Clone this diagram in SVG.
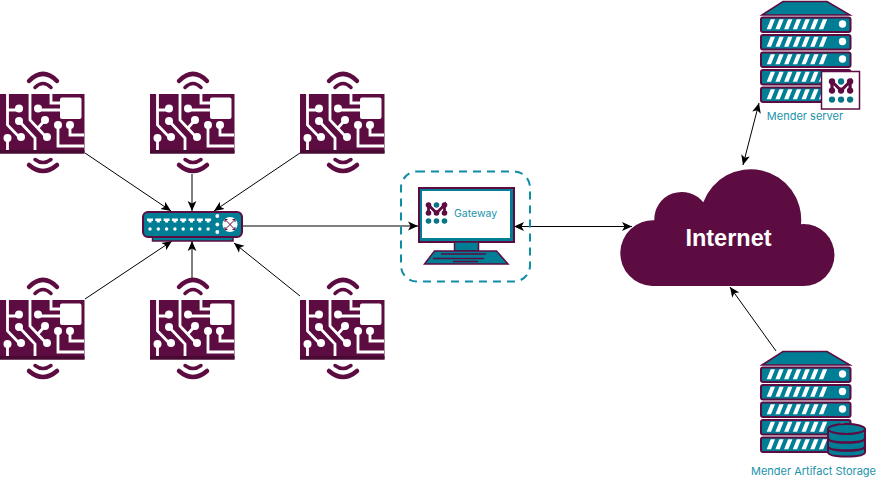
<svg xmlns="http://www.w3.org/2000/svg" width="878" height="478" viewBox="0 0 878 478">
<style>
.p{fill:#5d0c41}.w{fill:#fff}.t{fill:#007e96}
.tr{fill:none;stroke:#fff;stroke-width:2.800}
.wv{fill:none;stroke:#5d0c41;stroke-linecap:round}
.ln{stroke:#000;stroke-width:1;fill:none;marker-end:url(#a)}
.dbl{marker-start:url(#a)}
.lb{font-family:"Inter","Open Sans","Liberation Sans",sans-serif;fill:#1a93ab}
</style>
<defs>
<marker id="a" markerUnits="userSpaceOnUse" markerWidth="12" markerHeight="10" refX="10" refY="5" orient="auto-start-reverse"><path d="M0 0.6L10 5L0 9.400L2.500 5Z" fill="#000"/></marker>
<g id="dev">
<path class="wv" stroke-width="4.500" d="M29-13Q43-27 57-13"/>
<path class="wv" stroke-width="3.500" d="M35-6.500Q43-14.500 51-6.500"/>
<rect class="p" x="0" y="0" width="84.500" height="59.500"/>
<rect x="0" y="56" width="84.500" height="3.500" fill="#470a32"/>
<path class="wv" stroke-width="3.500" d="M35 65.500Q43 71.500 51 65.500"/>
<path class="wv" stroke-width="4.500" d="M29 71Q43 83 57 71"/>
<rect class="w" x="60" y="3.500" width="21.500" height="21.500" rx="2"/>
<path class="tr" d="M7.500 0V31L21 45M7.500 16H19M7.500 45V56M19 27L35 44V56M30 0V26L47 44M45 26L37 35M38 16H60M51 0V9H60M58 31V52H84M70 31V41H84"/>
<g class="w"><circle cx="19" cy="14.500" r="4"/><circle cx="21" cy="43" r="4"/><circle cx="7.500" cy="44" r="4"/><circle cx="19" cy="27" r="4"/><circle cx="47" cy="43" r="4"/><circle cx="45" cy="26" r="4"/><circle cx="38" cy="14.500" r="4"/><circle cx="58" cy="31" r="4"/><circle cx="70" cy="31" r="4"/></g>
</g>
<g id="unit">
<rect class="t" x="761" y="17.500" width="89.500" height="14.500" rx="2" stroke="#5d0c41" stroke-width="2"/>
<path class="w" d="M766.700 29.300L770.700 19.300H775L771 29.300ZM775.400 29.300L779.400 19.300H783.700L779.700 29.300ZM784.100 29.300L788.100 19.300H792.400L788.400 29.300ZM792.800 29.300L796.800 19.300H801.100L797.100 29.300ZM801.500 29.300L805.500 19.300H809.800L805.800 29.300ZM810.200 29.300L814.200 19.300H818.500L814.500 29.300ZM818.900 29.300L822.900 19.300H827.200L823.200 29.300Z"/>
<circle class="w" cx="842.500" cy="24" r="3.700"/>
</g>
<g id="srv">
<path class="t" d="M762 15L783 1.500H827L850 15Z" stroke="#5d0c41" stroke-width="1.500"/>
<use href="#unit"/><use href="#unit" y="17.500"/><use href="#unit" y="35"/><use href="#unit" y="52.500"/><use href="#unit" y="70"/>
</g>
<g id="logo">
<path d="M0 0V8M0 0L8 8L16 0V8" fill="none" stroke="#5d0c41" stroke-width="2.800"/>
<g class="p"><circle cx="0" cy="0" r="2.800"/><circle cx="16" cy="0" r="2.800"/><circle cx="0" cy="8" r="2.800"/><circle cx="8" cy="8" r="2.800"/><circle cx="16" cy="8" r="2.800"/></g>
<g fill="#0a7487"><circle cx="8" cy="0" r="2.800"/><circle cx="0" cy="16" r="2.800"/><circle cx="8" cy="16" r="2.800"/><circle cx="16" cy="16" r="2.800"/></g>
</g>
</defs>
<g id="connectors">
<path class="ln" d="M85 153L171 211"/>
<path class="ln" d="M192 174V211"/>
<path class="ln" d="M300 153L214 211"/>
<path class="ln" d="M85 299L172 241"/>
<path class="ln" d="M192 278V241"/>
<path class="ln" d="M300 296L234 243"/>
<path class="ln" d="M243 226H418"/>
<path class="ln dbl" d="M514 226.500H632"/>
<path class="ln dbl" d="M743 165L759 103"/>
<path class="ln" d="M776 351L730 287"/>
</g>
<g id="device1"><use href="#dev" x="0" y="94"/></g>
<g id="device2"><use href="#dev" x="150" y="94"/></g>
<g id="device3"><use href="#dev" x="300" y="94"/></g>
<g id="device4"><use href="#dev" x="0" y="300"/></g>
<g id="device5"><use href="#dev" x="150" y="300"/></g>
<g id="device6"><use href="#dev" x="300" y="300"/></g>
<g id="switch">
<rect class="t" x="152.500" y="236" width="80.500" height="5" stroke="#5d0c41" stroke-width="1.500"/>
<rect class="t" x="143" y="212" width="99" height="25" rx="5" stroke="#5d0c41" stroke-width="2"/>
<g class="w">
<path d="M147 218.500h6v2.500h-1.500v1.500h-3V221H147ZM155.300 218.500h6v2.500h-1.500v1.500h-3V221h-1.500ZM163.600 218.500h6v2.500h-1.500v1.500h-3V221h-1.500ZM171.900 218.500h6v2.500h-1.500v1.500h-3V221h-1.500ZM180.200 218.500h6v2.500h-1.500v1.500h-3V221h-1.500ZM188.500 218.500h6v2.500h-1.500v1.500h-3V221h-1.500ZM196.800 218.500h6v2.500h-1.500v1.500h-3V221h-1.500ZM205.100 218.500h6v2.500h-1.500v1.500h-3V221h-1.500Z"/>
<circle cx="150" cy="229" r="1.700"/><circle cx="158.300" cy="229" r="1.700"/><circle cx="166.600" cy="229" r="1.700"/><circle cx="174.900" cy="229" r="1.700"/><circle cx="183.200" cy="229" r="1.700"/><circle cx="191.500" cy="229" r="1.700"/><circle cx="199.800" cy="229" r="1.700"/><circle cx="208.100" cy="229" r="1.700"/>
<circle cx="217.300" cy="216" r="1.900"/><circle cx="217.300" cy="224.500" r="1.900"/><circle cx="217.300" cy="232" r="1.900"/>
<circle cx="230" cy="224.500" r="7.500"/>
</g>
<path d="M225 219.500L235 229.500M235 219.500L225 229.500M225 219.500h2.500M225 219.500v2.500M235 219.500h-2.500M235 219.500v2.500M225 229.500h2.500M225 229.500v-2.500M235 229.500h-2.500M235 229.500v-2.500" fill="none" stroke="#5d0c41" stroke-width="1"/>
</g>
<g id="gateway">
<rect x="401" y="171.500" width="129" height="110" rx="16" fill="none" stroke="#0e8da5" stroke-width="2" stroke-dasharray="8 6"/>
<rect class="t" x="419" y="188" width="95" height="54" stroke="#5d0c41" stroke-width="2"/>
<rect class="w" x="422" y="191" width="88" height="47"/>
<rect class="t" x="454.500" y="242" width="24" height="9" stroke="#5d0c41" stroke-width="1.500"/>
<path class="t" d="M434.500 251H496.500L508 264H424.500Z" stroke="#5d0c41" stroke-width="1.500"/>
<path d="M441 254H486M433 258.500H484M453 261.500H478" stroke="#5d0c41" stroke-width="1.500" fill="none"/>
<use href="#logo" x="428.500" y="205"/>
<text class="lb" x="454" y="217" font-size="10.500">Gateway</text>
</g>
<g id="internet">
<path class="p" d="M652 286A32.700 32.700 0 0 1 654.300 220.300A27.500 27.500 0 0 1 703.300 202.300A50.500 50.500 0 0 1 801 224.300Q802 224 803.500 224A31 31 0 0 1 803.500 286Z"/>
<text x="728.500" y="246" font-size="23.500" font-weight="700" text-anchor="middle" font-family="'Liberation Sans',Arial,sans-serif" fill="#fff">Internet</text>
</g>
<g id="mender-server">
<use href="#srv"/>
<rect class="w" x="821.500" y="71.500" width="38" height="37.500" stroke="#5d0c41" stroke-width="1.500"/>
<use href="#logo" transform="translate(832 81.500) scale(1.130)"/>
<text class="lb" x="805" y="119.500" font-size="11" text-anchor="middle">Mender server</text>
</g>
<g id="artifact-storage">
<use href="#srv" y="350"/>
<path class="t" d="M828 429.500V452Q828 456.500 846.500 456.500Q865 456.500 865 452V429.500Z" stroke="#5d0c41" stroke-width="2"/>
<ellipse class="t" cx="846.500" cy="429" rx="18.500" ry="5" stroke="#5d0c41" stroke-width="2"/>
<path d="M828 438Q828 442.500 846.500 442.500Q865 442.500 865 438M828 446Q828 450.500 846.500 450.500Q865 450.500 865 446" fill="none" stroke="#5d0c41" stroke-width="2.500"/>
<text class="lb" x="813.500" y="475" font-size="11" text-anchor="middle">Mender Artifact Storage</text>
</g>
</svg>
